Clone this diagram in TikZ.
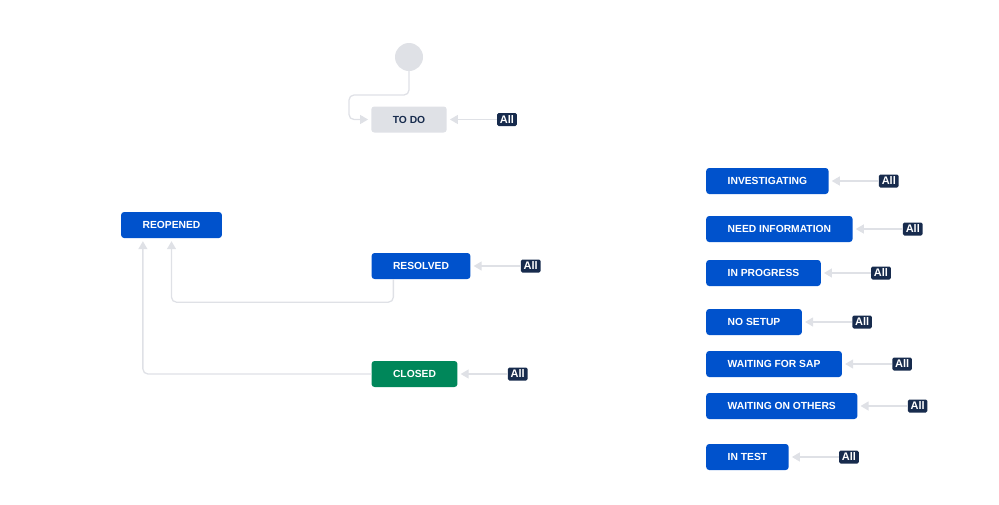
\documentclass[tikz,border=0pt]{standalone}
\usepackage{fontspec}
\setmainfont{Liberation Sans}
\usepackage{xcolor}
\usetikzlibrary{arrows.meta, positioning}
\definecolor{jblue}{HTML}{0052CC}
\definecolor{jgreen}{HTML}{00875A}
\definecolor{jgray}{HTML}{DFE1E6}
\definecolor{jnavy}{HTML}{172B4D}
\tikzset{
  status/.style = {draw=none, fill=jblue, text=white, rounded corners=3pt,
    minimum height=26pt, inner xsep=21.5pt, inner ysep=0pt,
    font=\fontsize{10.3}{12}\selectfont\bfseries},
  badge/.style = {fill=jnavy, text=white, rounded corners=1.5pt,
    minimum height=13pt, inner xsep=2.8pt, inner ysep=0pt,
    font=\fontsize{11}{12}\selectfont\bfseries},
  flow/.style = {draw=jgray, line width=1.3pt,
    -{Triangle[length=8pt,width=9pt]}, shorten >=3pt, rounded corners=5pt}
}
\begin{document}
\begin{tikzpicture}[x=1pt, y=-1pt]
            \useasboundingbox (0,0) rectangle (999,504);
            \node (start) [circle, fill=jgray, minimum size=28pt, inner sep=0pt] at (409,57) {};
            \node (todo) [status, fill=jgray, text=jnavy] at (409,119.5) {TO DO};
            \node (reopened) [status] at (171.5,225) {REOPENED};
            \node (resolved) [status] at (421,266) {RESOLVED};
            \node (closed) [status, fill=jgreen] at (414.5,374) {CLOSED};
            \node (investigating) [status, anchor=west] at (706,181) {INVESTIGATING};
            \node (needinfo) [status, anchor=west] at (706,229) {NEED INFORMATION};
            \node (inprogress) [status, anchor=west] at (706,273) {IN PROGRESS};
            \node (nosetup) [status, anchor=west] at (706,322) {NO SETUP};
            \node (waitsap) [status, anchor=west] at (706,364) {WAITING FOR SAP};
            \node (waitothers) [status, anchor=west] at (706,406) {WAITING ON OTHERS};
            \node (intest) [status, anchor=west] at (706,457) {IN TEST};
            \node (alltodo) [badge, right=50pt of todo] {All};
            \node (allresolved) [badge, right=50pt of resolved] {All};
            \node (allclosed) [badge, right=50pt of closed] {All};
            \node (allinvestigating) [badge, right=50pt of investigating] {All};
            \node (allneedinfo) [badge, right=50pt of needinfo] {All};
            \node (allinprogress) [badge, right=50pt of inprogress] {All};
            \node (allnosetup) [badge, right=50pt of nosetup] {All};
            \node (allwaitsap) [badge, right=50pt of waitsap] {All};
            \node (allwaitothers) [badge, right=50pt of waitothers] {All};
            \node (allintest) [badge, right=50pt of intest] {All};
            \coordinate (bend) at (349,95);
            \draw[flow] (start.south) |- (bend) |- (todo.west);
            \draw[flow] ([xshift=22pt]resolved.south west) -- ++(0,23) -| (reopened.south);
            \draw[flow] (closed.west) -| ([xshift=22pt]reopened.south west);
            \foreach \s in {todo, resolved, closed, investigating, needinfo, inprogress, nosetup, waitsap, waitothers, intest}
                \draw[flow, shorten <=0pt] (all\s.west) -- (\s.east);
            \end{tikzpicture}
\end{document}
